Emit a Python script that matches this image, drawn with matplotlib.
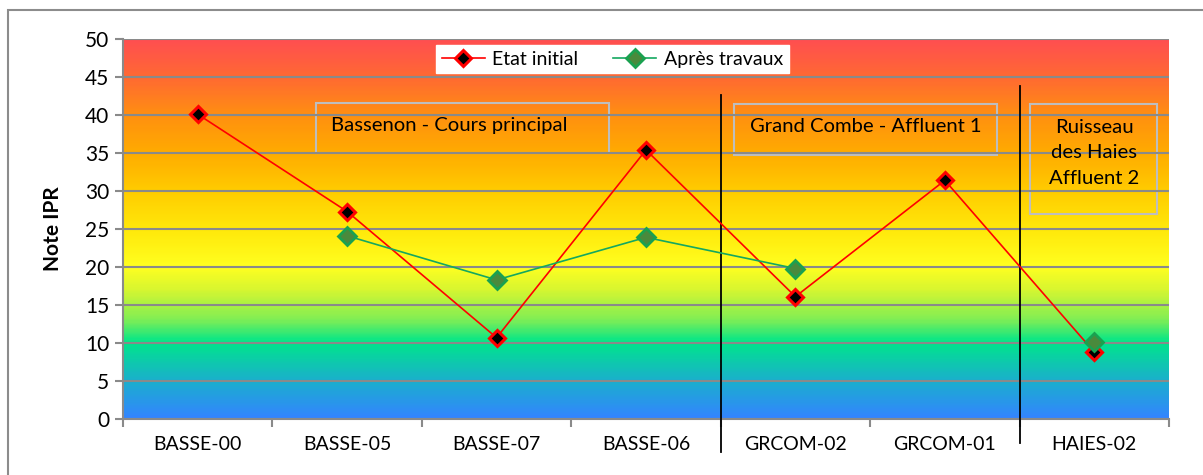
import matplotlib.pyplot as plt
import numpy as np
from matplotlib.colors import LinearSegmentedColormap

stations = ["BASSE-00", "BASSE-05", "BASSE-07", "BASSE-06", "GRCOM-02", "GRCOM-01", "HAIES-02"]
etat_initial = [40.1, 27.3, 10.7, 35.4, 16.1, 31.4, 8.8]
apres_travaux = [np.nan, 24.1, 18.3, 23.9, 19.8, np.nan, 10.1]

# background gradient stops (note IPR value, colour)
grad_stops = [(0, "#3385FF"), (5, "#1AB0CC"), (10, "#00E68A"), (13, "#80EE55"),
              (17, "#D8F630"), (20, "#FFFF20"), (25, "#FFE80A"), (30, "#FFCC00"),
              (35, "#FFAC00"), (40, "#FF9010"), (45, "#FF6A32"), (50, "#FF4F50")]

plt.rcParams['font.family'] = ['Lato', 'DejaVu Sans']

fig = plt.figure(figsize=(12.03, 4.75), dpi=100)
fig.patches.append(plt.Rectangle((8 / 1203, -0.1), 1.2, 1.08, transform=fig.transFigure,
                                 fill=False, edgecolor="#8C8C8C", linewidth=1.5))
ax = fig.add_axes([123 / 1203, 56 / 475, 1046 / 1203, 380 / 475])

x = np.arange(len(stations))
ax.set_xlim(-0.5, len(stations) - 0.5)
ax.set_ylim(0, 50)

cmap = LinearSegmentedColormap.from_list("ipr", [(v / 50, c) for v, c in grad_stops])
grad = np.linspace(0, 1, 300).reshape(-1, 1)
ax.imshow(grad, cmap=cmap, origin="lower", aspect="auto",
          extent=(-0.5, len(stations) - 0.5, 0, 50), zorder=0)

ax.set_yticks(range(0, 51, 5))
ax.yaxis.grid(True, color="#8A8A8A", linewidth=1.5, zorder=1)
ax.set_axisbelow(False)
ax.set_xticks(x)
ax.set_xticklabels(stations)
ax.set_xticks(np.arange(-0.5, len(stations)), minor=True)
ax.tick_params(axis="x", which="major", length=0, pad=12, labelsize=14)
ax.tick_params(axis="x", which="minor", length=6, color="#8A8A8A", width=1.5)
ax.tick_params(axis="y", length=6, color="#8A8A8A", width=1.5, labelsize=15, pad=4)
for s in ["top", "right"]:
    ax.spines[s].set_visible(False)
for s in ["left", "bottom"]:
    ax.spines[s].set_color("#8A8A8A")
    ax.spines[s].set_linewidth(1.5)
ax.set_ylabel("Note IPR", fontsize=15, fontweight="bold", labelpad=16)

ax.plot(x, etat_initial, color="#FF0000", linewidth=1.2, marker="D", markersize=8.5,
        markerfacecolor="black", markeredgecolor="#FF0000", markeredgewidth=2.2,
        label="Etat initial", zorder=4)
ax.plot(x, apres_travaux, color="#14A860", linewidth=1.2, marker="D", markersize=9,
        markerfacecolor="#4A8A3C", markeredgecolor="#1AA150", markeredgewidth=2,
        label="Après travaux", zorder=5)

# separators between streams
ax.plot([3.5, 3.5], [42.6, -4.3], color="black", linewidth=1.3, clip_on=False, zorder=3)
ax.plot([5.5, 5.5], [43.8, -3.2], color="black", linewidth=1.3, clip_on=False, zorder=3)

box = dict(facecolor="none", edgecolor="#BEBEBE", linewidth=1.5)
ax.add_patch(plt.Rectangle((0.79, 35.0), 1.96, 6.6, **box, zorder=2))
ax.text(0.89, 38.6, "Bassenon - Cours principal", fontsize=14.6, va="center", ha="left", zorder=6)
ax.add_patch(plt.Rectangle((3.59, 34.8), 1.76, 6.7, **box, zorder=2))
ax.text(4.47, 38.5, "Grand Combe - Affluent 1", fontsize=14.6, va="center", ha="center", zorder=6)
ax.add_patch(plt.Rectangle((5.57, 27.0), 0.85, 14.4, **box, zorder=2))
ax.text(6.0, 35.0, "Ruisseau\ndes Haies\nAffluent 2", fontsize=14.6, va="center", ha="center",
        linespacing=1.6, zorder=6)

leg = ax.legend(loc="upper center", bbox_to_anchor=(0.468, 0.985), ncol=2, frameon=True,
                fancybox=False, fontsize=14, handlelength=2.2, columnspacing=1.8,
                borderpad=0.3, borderaxespad=0.0, handletextpad=0.4)
leg.get_frame().set_facecolor("white")
leg.get_frame().set_edgecolor("white")
leg.get_frame().set_alpha(1)
leg.set_zorder(7)

fig.savefig("out.png", dpi=100)
